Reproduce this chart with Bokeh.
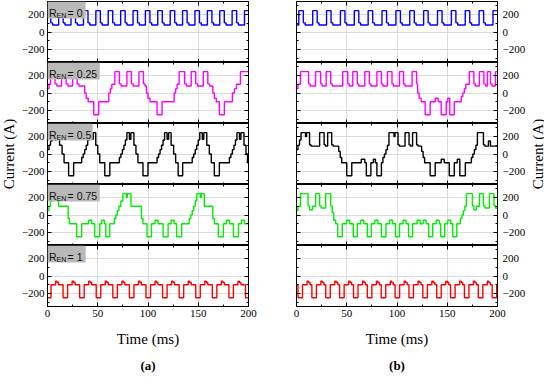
import math
from bokeh.plotting import figure
from bokeh.layouts import row, column
from bokeh.models import LinearAxis, FixedTicker, Range1d, BoxAnnotation, Label, Title, Grid
from bokeh.embed import file_html
from bokeh.resources import INLINE

# ---------------- data ----------------
TIME_TICKS = [0, 50, 100, 150, 200]
TIME_MINOR = [25, 75, 125, 175]
CUR_TICKS = [-200, 0, 200]
CUR_MINOR = [-300, -100, 100, 300]
R_EN = ["0", "0.25", "0.5", "0.75", "1"]
COLORS = ["#0000ff", "#ff00ff", "#000000", "#00ee00", "#ff0000"]

# positive pulse carrier (R_EN = 0): rise times (ms) and pulse shape
A1_rise = [-1.2, 11.1, 23.4, 35.8, 48.1, 60.4, 72.8, 85.1, 97.4, 109.7, 122.1,
           134.4, 146.7, 159.1, 171.4, 183.7, 196.0]
B1_rise = [-11.5, 2.3, 16.1, 29.9, 43.7, 57.5, 71.3, 85.1, 98.9, 112.7, 126.5,
           140.3, 154.1, 167.9, 181.7, 195.5]
POS_OFF = [0.0, 4.5, 6.3]
POS_LEV = [245, 105, 80]

# negative pulse carrier (R_EN = 1): dip times (ms) and dip shape
A5_dip = [-1.0, 15.5, 32.0, 48.5, 65.0, 81.5, 98.0, 114.5, 131.0, 147.5, 164.0,
          180.5, 197.0]
B5_dip = [-12.3, 1.5, 15.3, 29.1, 42.9, 56.7, 70.5, 84.3, 98.1, 111.9, 125.7,
          139.5, 153.3, 167.1, 180.9, 194.7]
NEG_OFF = [0.0, 4.5, 9.0, 10.5, 12.0]
NEG_LEV = [-250, -100, -60, -75, -100]

# mixed traces: (time ms, current A) step points
A2 = [(0, 50), (1.5, 100), (3, 245), (7.5, 105), (9.3, 80), (14, 245), (18.5, 105), (20.3, 80),
      (25, 245), (29.5, 105), (31.3, 80), (37, 0), (38.5, -60), (40.5, -100), (46, -250), (51, -100),
      (61, 0), (62.5, 50), (64, 100), (67, 245), (71.5, 105), (73.3, 80), (79, 245), (83.5, 105),
      (85.3, 80), (91, 245), (95.5, 105), (97, 80), (98.5, 0), (100, -60), (102, -100), (109, -250),
      (114, -100), (126, 0), (127.5, 50), (129, 100), (131, 245), (136.5, 105), (138.3, 80),
      (143, 245), (147.5, 105), (149.3, 80), (155, 245), (159.5, 105), (161.3, 80), (164.5, 0),
      (166, -60), (168, -100), (171, -250), (176, -100), (184, 0), (186, 50), (188, 100), (192, 245)]

A3 = [(0, 50), (1.5, 100), (3, 150), (4.5, 245), (7.5, 160), (8.5, 245), (12, 100), (14.5, 0),
      (16.5, -100), (21, -250), (26, -100), (34, -40), (35.5, 0), (37, 50), (38.5, 100), (40, 160),
      (41.5, 245), (44, 170), (45.5, 245), (48, 100), (50, 0), (52, -100), (57, -250), (62, -100),
      (71.5, -40), (73, 0), (74.5, 50), (76, 100), (77.5, 160), (79, 245), (81.5, 170), (83, 245),
      (86, 100), (88, 0), (90, -100), (95, -250), (100, -100), (109, -40), (110.5, 0), (112, 50),
      (113.5, 100), (115, 160), (116.5, 245), (119, 170), (120.5, 245), (123, 100), (125.5, 0),
      (127.5, -100), (130, -250), (134.5, -100), (144, -40), (145.5, 0), (147, 50), (148.5, 100),
      (150, 160), (151.5, 245), (154, 170), (155.5, 245), (158.5, 100), (161, 0), (163, -100),
      (166, -250), (171, -100), (181, -40), (182.5, 0), (184, 50), (185.5, 100), (187, 160),
      (188.5, 245), (191, 170), (192.5, 245), (195.5, 100), (197.5, 0), (199, -100)]

A4 = [(0, 50), (1.5, 100), (3, 160), (4.5, 245), (11, 100), (20.5, -40), (22, -100), (29, -250),
      (34, -100), (41, -60), (44, -100), (47, -250), (52, -100), (54, -60), (56.5, -100),
      (58, -250), (62, -100), (66.5, -40), (68, 0), (69.5, 50), (71, 100), (73, 160), (75, 245),
      (78.5, 200), (79.5, 245), (83, 100), (93.5, -40), (95, -100), (99, -250), (103.5, -100),
      (107, -60), (110, -100), (115, -250), (120, -100), (123, -60), (126, -100), (128.5, -250),
      (133.5, -100), (141, -40), (142.5, 0), (144, 50), (145.5, 100), (147, 160), (148.5, 245),
      (152, 200), (153, 245), (156, 100), (164.5, -40), (166, -100), (170, -250), (175, -100),
      (178, -60), (181, -100), (185, -250), (190, -100), (193, -60), (196, -100)]

B2 = [(0, 50), (1.5, 100), (4, 245), (12, 105), (13.5, 80), (19, 245), (24, 105), (25.5, 80),
      (29.5, 245), (34, 105), (35.5, 80), (46, 245), (51, 105), (52.5, 80), (56, 245), (60.5, 105),
      (62, 80), (68, 245), (72.5, 105), (74, 80), (80, 245), (84.5, 105), (86, 80), (90.5, 245),
      (95, 105), (96.5, 80), (102.5, 245), (106.5, 105), (108, 80), (115, 245), (119.5, 105),
      (120.5, 0), (122, -60), (124, -100), (128, -250), (133, -100), (138, -60), (141, -100),
      (144, -250), (149, -100), (150.5, -60), (152.5, -250), (157, -100), (164, -40), (165.5, 0),
      (167, 50), (168.5, 100), (172, 245), (176.5, 105), (178, 80), (182, 245), (186.5, 105),
      (188, 80), (190, 245), (193, 105), (194.5, 80), (198, 245)]

B3 = [(0, 50), (1.5, 100), (3, 160), (4.5, 245), (9, 200), (10, 245), (13, 105), (14.5, 90),
      (23, 245), (27.5, 105), (29, 90), (31, 245), (35, 105), (36.5, 90), (42, 30), (43.5, -40),
      (45, -100), (50, -250), (55, -100), (64.5, -60), (68, -100), (69.5, -250), (74, -100),
      (76.5, -60), (78.5, -100), (80, -250), (84.5, -100), (86, -40), (87.5, 0), (89, 50),
      (90.5, 100), (92, 245), (97, 200), (98, 245), (101, 105), (102.5, 90), (108, 245),
      (112, 105), (113.5, 90), (115.5, 245), (119.5, 105), (121, 90), (124.5, 30), (126, -40),
      (127.5, -100), (133, -250), (138, -100), (144, -60), (147, -100), (152, -250), (157, -100),
      (160, -60), (162.5, -250), (168, -100), (174, -40), (175.5, 0), (177, 50), (178.5, 100),
      (180, 245), (186, 105), (187.5, 90), (191, 150), (193, 90)]

B4 = [(0, 50), (1.5, 100), (4, 245), (11.5, 105), (13, 60), (16, 100), (19, 245), (23, 105),
      (24.5, 80), (29, 245), (34, 105), (35.5, 30), (37, -60), (39, -100), (41, -250),
      (45.5, -100), (50, -60), (53, -100), (56.5, -250), (60.5, -100), (64, -60), (67, -100),
      (70.5, -250), (74.5, -100), (78, -60), (81, -100), (84.5, -250), (89, -100), (92.5, -60),
      (95.5, -100), (98.5, -250), (102.5, -100), (106, -60), (109, -100), (111.5, -250),
      (115.5, -100), (120, -60), (123, -100), (126, -60), (129, -100), (131.5, -250),
      (135.5, -100), (139, -60), (142, -100), (143.5, -250), (147.5, -100), (150.5, -60),
      (153.5, -100), (155.5, -250), (159.5, -100), (163, -40), (164.5, 0), (166, 50),
      (167.5, 100), (169, 245), (175, 105), (176.5, 60), (179, 100), (182, 245), (186, 105),
      (187.5, 80), (192, 245), (196.5, 105), (198, 80)]

LABEL_BOX_W = [38, 52, 45, 52, 38]

# ---------------- helpers ----------------
T_END = 200.0
PANEL_H = 61
FRAME_W = 201


def from_pairs(pairs):
    t = [a for a, _ in pairs]
    v = [b for _, b in pairs]
    t.append(T_END)
    v.append(v[-1])
    return t, v


def from_carrier(starts, offs, levs):
    t, v = [], []
    for s in starts:
        for o, l in zip(offs, levs):
            t.append(s + o)
            v.append(l)
    v0 = v[0]
    for tt, vv in zip(t, v):
        if tt <= 0:
            v0 = vv
    out_t, out_v = [0.0], [v0]
    for tt, vv in zip(t, v):
        if 0 < tt < T_END:
            out_t.append(tt)
            out_v.append(vv)
    out_t.append(T_END)
    out_v.append(out_v[-1])
    return out_t, out_v


TRACES_A = [from_carrier(A1_rise, POS_OFF, POS_LEV), from_pairs(A2), from_pairs(A3),
            from_pairs(A4), from_carrier(A5_dip, NEG_OFF, NEG_LEV)]
TRACES_B = [from_carrier(B1_rise, POS_OFF, POS_LEV), from_pairs(B2), from_pairs(B3),
            from_pairs(B4), from_carrier(B5_dip, NEG_OFF, NEG_LEV)]

SERIF = "Liberation Serif"
SANS = "Liberation Sans"


def add_axis(p, side, labels=False, axis_label=None):
    horiz = side in ("above", "below")
    major = TIME_TICKS if horiz else CUR_TICKS
    minor = TIME_MINOR if horiz else CUR_MINOR
    ax = LinearAxis(ticker=FixedTicker(ticks=major, minor_ticks=minor))
    ax.major_tick_in = 4
    ax.major_tick_out = 0
    ax.minor_tick_in = 2
    ax.minor_tick_out = 0
    ax.axis_line_color = "black"
    ax.major_tick_line_color = "black"
    ax.minor_tick_line_color = "black"
    ax.major_label_text_font = SERIF
    ax.major_label_text_color = "black"
    if labels:
        ax.major_label_text_font_size = "11px"
        ax.major_label_standoff = 5 if side == "right" else 3
    else:
        ax.major_label_text_font_size = "0px"
        ax.major_label_standoff = 0
    if axis_label is not None:
        ax.axis_label = axis_label
        ax.axis_label_text_font = SERIF
        ax.axis_label_text_font_size = "15px"
        ax.axis_label_text_font_style = "normal"
        ax.axis_label_text_color = "black"
        ax.axis_label_standoff = 11
    p.add_layout(ax, side)


def make_panel(col, i, t, v):
    p = figure(frame_width=FRAME_W, frame_height=PANEL_H, x_range=Range1d(0, 200),
               y_range=Range1d(-350, 350), x_axis_location=None, y_axis_location=None,
               toolbar_location=None, output_backend="svg", min_border=0)
    p.center = []
    p.outline_line_color = "black"
    p.background_fill_color = "white"
    p.border_fill_color = "white"
    p.add_layout(Grid(dimension=0, ticker=FixedTicker(ticks=[50, 100, 150]),
                      grid_line_color="#dcdcdc", grid_line_width=1))
    p.add_layout(Grid(dimension=1, ticker=FixedTicker(ticks=CUR_TICKS),
                      grid_line_color="#dcdcdc", grid_line_width=1))
    if col == "a":
        p.min_border_right = 24
        p.min_border_left = 24
    else:
        p.min_border_left = 24
        p.min_border_right = 26
    if i == 0:
        p.min_border_top = 1
    bottom = (i == 4)
    add_axis(p, "left", labels=(col == "a"))
    add_axis(p, "right", labels=(col == "b"))
    add_axis(p, "above")
    add_axis(p, "below", labels=bottom, axis_label=("Time (ms)" if bottom else None))
    if bottom:
        p.add_layout(Title(text="(a)" if col == "a" else "(b)", align="center",
                           text_font=SERIF, text_font_size="13px", text_font_style="bold",
                           text_color="black", standoff=12), "below")

    p.step(t, v, mode="after", line_color=COLORS[i], line_width=1.4)

    if col == "a":
        p.add_layout(BoxAnnotation(left=0, right=LABEL_BOX_W[i], top=350, bottom=155,
                                   fill_color="#b9b9b9", fill_alpha=1.0, line_color=None))
        p.add_layout(Label(x=1.5, y=222, text="R", text_font=SANS, text_font_size="10.5px",
                           text_color="#111111", text_baseline="alphabetic"))
        p.add_layout(Label(x=9, y=190, text="EN", text_font=SANS, text_font_size="7px",
                           text_color="#111111", text_baseline="alphabetic"))
        p.add_layout(Label(x=20, y=222, text="= " + R_EN[i], text_font=SANS,
                           text_font_size="10.5px", text_color="#111111",
                           text_baseline="alphabetic"))
    return p


def label_fig(text, width, xpos):
    h = PANEL_H * 5 + 1
    f = figure(frame_width=width, frame_height=h, x_range=Range1d(0, width),
               y_range=Range1d(0, h), x_axis_location=None, y_axis_location=None,
               toolbar_location=None, output_backend="svg", min_border=0)
    f.center = []
    f.outline_line_color = None
    f.background_fill_color = "white"
    f.border_fill_color = "white"
    f.add_layout(Label(x=xpos, y=h - 1 - PANEL_H * 2.5, text=text, angle=math.pi / 2,
                       text_align="center", text_baseline="middle", text_font=SERIF,
                       text_font_size="15px", text_color="black"))
    return f


col_a = column([make_panel("a", i, *TRACES_A[i]) for i in range(5)], spacing=0)
col_b = column([make_panel("b", i, *TRACES_B[i]) for i in range(5)], spacing=0)
layout = row([label_fig("Current (A)", 18, 8), col_a, col_b,
              label_fig("Current (A)", 16, 9)], spacing=0)

open("out.html", "w").write(file_html(layout, INLINE))
